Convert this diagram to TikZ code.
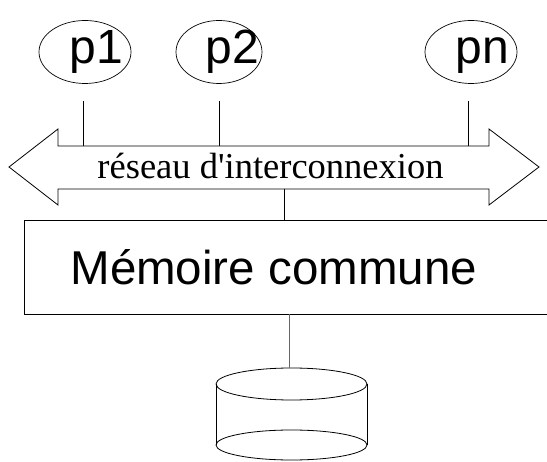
\documentclass[tikz,border=0pt]{standalone}
\usepackage{fontspec}
\setmainfont{Liberation Serif}
\newfontfamily\netserif{Liberation Serif}[Ligatures=TeXOff]
\newfontfamily\labelsans{Liberation Sans}
\usetikzlibrary{shapes.geometric}

\begin{document}
\begin{tikzpicture}[x=1pt,y=-1pt,
  line width=0.9pt,
  proc/.style={draw, ellipse, inner sep=0pt, line width=0.7pt},
  proclabel/.style={anchor=base west, inner sep=0pt, font=\labelsans\fontsize{48}{48}\selectfont},
  link/.style={draw, line width=0.8pt},
  membox/.style={draw, rectangle, anchor=north west, inner sep=0pt, line width=0.9pt}]

\useasboundingbox (0,0) rectangle (547,462);
\clip (0,0) rectangle (547,462);

% processors
\node[proc, minimum width=92pt, minimum height=63pt] (p1) at (85,52) {};
\node[proc, minimum width=86pt, minimum height=63pt] (p2) at (219,52) {};
\node[proc, minimum width=92pt, minimum height=63pt] (pn) at (471,52) {};
\node[proclabel] (l1) at (69,64) {p1};
\node[proclabel] (l2) at (205,64) {p2};
\node[proclabel] (ln) at (455,64) {pn};

% interconnection network (double arrow)
\draw[line width=0.8pt] (9,167) -- (58,129) -- (58,146) -- (489,146) -- (489,129)
  -- (539,167) -- (489,205) -- (489,189) -- (58,189) -- (58,205) -- cycle;
\node[anchor=base west, inner sep=0pt, font=\netserif\fontsize{36.5}{36.5}\selectfont] (net) at (97,179) {réseau d'interconnexion};

\coordinate (t1) at (83,101);   \coordinate (s1) at (83,146);
\coordinate (t2) at (219,101);  \coordinate (s2) at (219,146);
\coordinate (tn) at (468,101);  \coordinate (sn) at (468,146);
\coordinate (nb) at (284,189);

% shared memory
\node[membox, minimum width=560pt, minimum height=94pt] (mem) at (24,220) {};
\node[anchor=base west, inner sep=0pt, font=\labelsans\fontsize{47.5}{47.5}\selectfont] (memlabel) at (70,285) {Mémoire commune};

% processor links
\draw[link] (t1) -- (s1);
\draw[link] (t2) -- (s2);
\draw[link] (tn) -- (sn);
\draw[link] (nb) -- (nb |- mem.north);

% disk
\coordinate (disktop) at (291.5,368);
\draw[line width=0.8pt] (216,384) -- (216,445);
\draw[line width=0.8pt] (367,384) -- (367,445);
\draw[line width=0.8pt] (291.5,384) ellipse [x radius=75.5, y radius=16];
\draw[line width=0.8pt] (291.5,445) ellipse [x radius=75.5, y radius=15];
\draw[link, black!60] (289,314) -- (289,368);
\end{tikzpicture}
\end{document}
